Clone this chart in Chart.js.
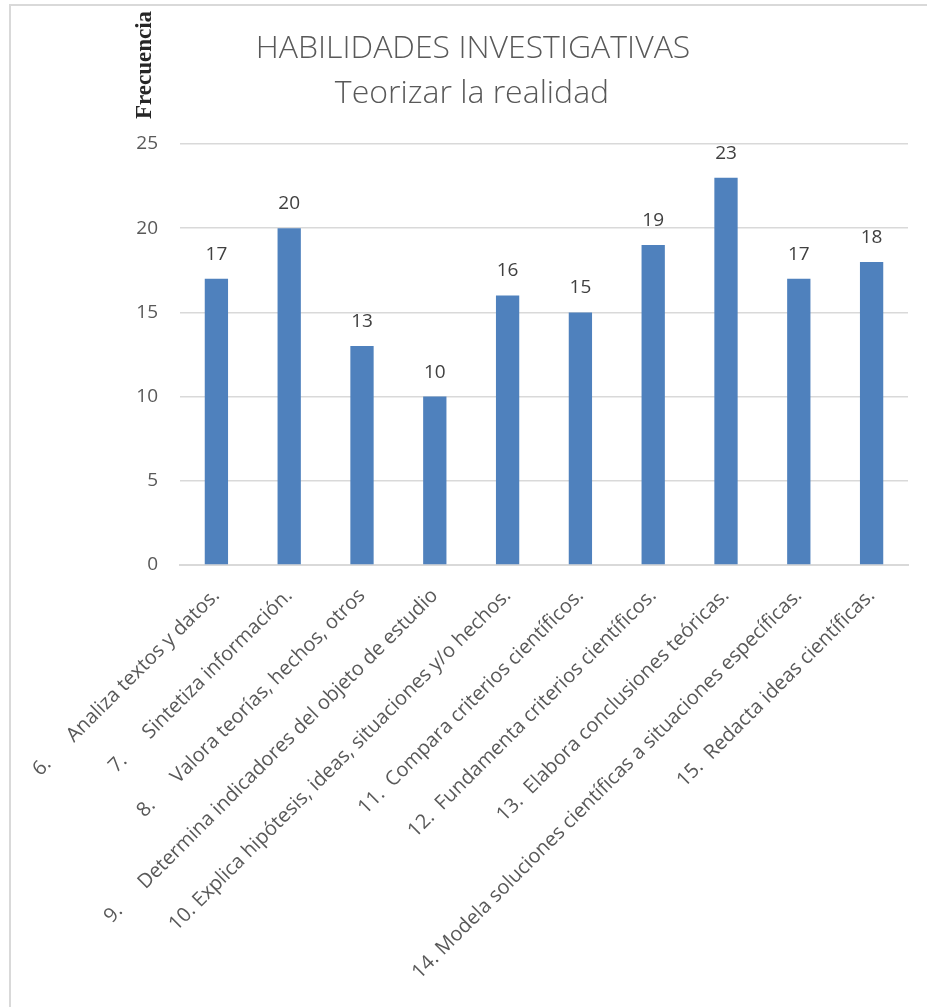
<!DOCTYPE html>
<html>
<head>
<meta charset="utf-8">
<script src="https://cdn.jsdelivr.net/npm/chart.js@4.4.1/dist/chart.umd.min.js"></script>
<style>
  html, body { margin: 0; padding: 0; background: #ffffff; }
  #wrap { position: relative; width: 927px; height: 1007px; }
  canvas { display: block; }
</style>
</head>
<body>
<div id="wrap"><canvas id="c" width="927" height="1007"></canvas></div>
<script>
const categories = [
  "6.      Analiza textos y datos.",
  "7.      Sintetiza información.",
  "8.      Valora teorías, hechos, otros",
  "9.      Determina indicadores del objeto de estudio",
  "10. Explica hipótesis, ideas, situaciones y/o hechos.",
  "11.  Compara criterios científicos.",
  "12.  Fundamenta criterios científicos.",
  "13.  Elabora conclusiones teóricas.",
  "14. Modela soluciones científicas a situaciones específicas.",
  "15.  Redacta ideas científicas."
];
const frecuencia = [17, 20, 13, 10, 16, 15, 19, 23, 17, 18];
const yTicks = [0, 5, 10, 15, 20, 25];
const titleLines = ["HABILIDADES INVESTIGATIVAS", "Teorizar la realidad"];
const yAxisTitle = "Frecuencia";

const frameAndText = {
  id: 'frameAndText',
  beforeDraw(chart) {
    const ctx = chart.ctx;
    ctx.save();
    ctx.fillStyle = '#ffffff';
    ctx.fillRect(0, 0, chart.width, chart.height);
    ctx.strokeStyle = '#d9d9d9';
    ctx.lineWidth = 2;
    ctx.beginPath();
    ctx.moveTo(10, chart.height);
    ctx.lineTo(10, 5);
    ctx.lineTo(chart.width, 5);
    ctx.stroke();
    ctx.restore();
  },
  afterDraw(chart) {
    const ctx = chart.ctx;
    ctx.save();
    ctx.fillStyle = '#595959';
    ctx.textAlign = 'center';
    ctx.textBaseline = 'middle';
    ctx.font = '300 32px "Open Sans"';
    ctx.fillText(titleLines[0], 473, 49);
    ctx.fillText(titleLines[1], 472, 94);
    // rotated y-axis title
    ctx.translate(145, 65);
    ctx.rotate(-Math.PI / 2);
    ctx.fillStyle = '#262626';
    ctx.font = 'bold 23px "Liberation Serif"';
    ctx.fillText(yAxisTitle, 0, 0);
    ctx.restore();
  }
};

const valueLabels = {
  id: 'valueLabels',
  afterDatasetsDraw(chart) {
    const ctx = chart.ctx;
    const meta = chart.getDatasetMeta(0);
    ctx.save();
    ctx.fillStyle = '#404040';
    ctx.font = '19px "Open Sans"';
    ctx.textAlign = 'center';
    ctx.textBaseline = 'bottom';
    meta.data.forEach((el, i) => {
      ctx.fillText(String(chart.data.datasets[0].data[i]), el.x, el.y - 15);
    });
    ctx.restore();
  }
};

new Chart(document.getElementById('c'), {
  type: 'bar',
  data: {
    labels: categories,
    datasets: [{
      label: 'Frecuencia',
      data: frecuencia,
      backgroundColor: '#4f81bd',
      borderWidth: 0,
      barPercentage: 0.32,
      categoryPercentage: 1.0
    }]
  },
  options: {
    responsive: false,
    animation: false,
    devicePixelRatio: 1,
    layout: { padding: { left: 0, right: 19, top: 144, bottom: 0 } },
    plugins: {
      legend: { display: false },
      title: { display: false },
      tooltip: { enabled: false }
    },
    scales: {
      x: {
        grid: { display: false, drawTicks: false },
        border: { display: true, color: '#d9d9d9', width: 2 },
        ticks: {
          color: '#595959',
          font: { family: 'Open Sans', size: 20 },
          minRotation: 45,
          maxRotation: 45,
          autoSkip: false,
          padding: 19
        },
        afterFit(scale) { scale.height = 1007 - 565; }
      },
      y: {
        min: 0,
        max: 25,
        afterBuildTicks(scale) { scale.ticks = yTicks.map(v => ({ value: v })); },
        grid: { color: '#d9d9d9', lineWidth: 1.5, drawTicks: false },
        border: { display: false },
        ticks: {
          color: '#595959',
          font: { family: 'Open Sans', size: 19 },
          padding: 22
        },
        afterFit(scale) { scale.width = 180; }
      }
    }
  },
  plugins: [frameAndText, valueLabels]
});
</script>
</body>
</html>
